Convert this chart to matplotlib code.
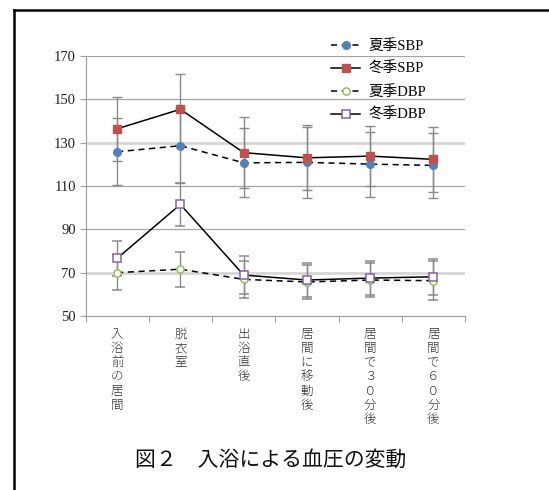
import numpy as np
import matplotlib
matplotlib.use('Agg')
from matplotlib import pyplot as plt
from matplotlib.lines import Line2D

# 測定タイミング
categories = ['入浴前の居間', '脱衣室', '出浴直後', '居間に移動後', '居間で３０分後', '居間で６０分後']

# 平均値と標準偏差 (mmHg)
sbp_summer = [125.8, 128.6, 120.7, 120.9, 120.1, 119.5]
sbp_summer_sd = [15.4, 17.4, 16.0, 16.3, 15.0, 15.0]
sbp_winter = [136.4, 145.4, 125.4, 123.0, 123.8, 122.3]
sbp_winter_sd = [14.8, 16.3, 16.3, 15.0, 14.0, 15.0]
dbp_summer = [70.0, 71.6, 66.9, 65.7, 66.6, 66.3]
dbp_summer_sd = [8.0, 8.0, 8.5, 8.0, 8.0, 9.0]
dbp_winter = [76.6, 101.5, 68.9, 66.6, 67.5, 68.1]
dbp_winter_sd = [8.1, 10.0, 8.7, 8.0, 8.0, 8.3]

series_labels = ['夏季SBP', '冬季SBP', '夏季DBP', '冬季DBP']
y_ticks = [50, 70, 90, 110, 130, 150, 170]

serif = ['Liberation Serif', 'Noto Sans CJK JP']
gothic = ['Noto Sans CJK JP', 'DejaVu Sans']

fig = plt.figure(figsize=(5.49, 4.9), dpi=100)
ax = fig.add_axes([85.5 / 549, 174 / 490, 379.5 / 549, 260 / 490])

x = np.arange(len(categories))

# grid
for v in y_ticks[1:]:
    if v in (70, 130):
        ax.axhline(v, color='#d6d6d6', lw=2.0, zorder=0)
    else:
        ax.axhline(v, color='#a6a6a6', lw=0.9, zorder=0)

styles = [
    (sbp_summer, sbp_summer_sd, dict(ls=(0, (4, 3)), marker='o', mfc='#4f81bd', mec='#4f81bd', ms=5.5)),
    (sbp_winter, sbp_winter_sd, dict(ls='-', marker='s', mfc='#c0504d', mec='#c0504d', ms=5.5)),
    (dbp_summer, dbp_summer_sd, dict(ls=(0, (4, 3)), marker='o', mfc='white', mec='#9bbb59', ms=5.2, mew=1.1)),
    (dbp_winter, dbp_winter_sd, dict(ls='-', marker='s', mfc='white', mec='#8064a2', ms=5.2, mew=1.1)),
]

handles = []
for (vals, sd, st), lab in zip(styles, series_labels):
    line, caps, bars = ax.errorbar(x, vals, yerr=sd, color='black', lw=1.1,
                                   ecolor='#8a8a8a', elinewidth=1.0, capsize=3.5,
                                   capthick=1.0, label=lab, **st)
    for c in caps:
        c.set_color('#3a3a3a')
    handles.append(Line2D([], [], color='black', lw=1.1, **st))

ax.set_xlim(-0.5, len(categories) - 0.5)
ax.set_ylim(50, 170)
ax.set_yticks(y_ticks)
ax.set_yticklabels([str(v) for v in y_ticks], family=serif, fontsize=10.5, color='#222222')
ax.set_xticks(np.arange(len(categories) + 1) - 0.5)
ax.set_xticklabels([])
ax.tick_params(axis='x', length=4, color='#a0a0a0', direction='out')
ax.tick_params(axis='y', length=4, color='#a0a0a0', direction='out', pad=3)
for s in ('top', 'right'):
    ax.spines[s].set_visible(False)
for s in ('left', 'bottom'):
    ax.spines[s].set_color('#a0a0a0')
    ax.spines[s].set_linewidth(0.9)

# 縦書きのカテゴリラベル
for i, cat in enumerate(categories):
    ax.text(i, -0.045, '\n'.join(cat), transform=ax.get_xaxis_transform(),
            ha='center', va='top', fontsize=9, family=gothic, color='#333333',
            linespacing=1.12, fontweight='light')

fig.legend(handles=handles, labels=series_labels, loc='upper left',
           bbox_to_anchor=(331 / 549, 1 - 39 / 490), frameon=False,
           prop={'family': serif, 'size': 10.5}, handlelength=2.0,
           handletextpad=0.6, labelspacing=0.62, borderpad=0, borderaxespad=0)

fig.text(271 / 549, 1 - 460 / 490, '図２　入浴による血圧の変動', ha='center', va='center',
         fontsize=15, family=gothic, color='#111111', fontweight='normal')

# 外枠
fig.add_artist(Line2D([14 / 549, 14 / 549], [0, 1 - 10.5 / 490], transform=fig.transFigure,
                      color='black', lw=1.8))
fig.add_artist(Line2D([14 / 549, 1], [1 - 10.5 / 490, 1 - 10.5 / 490], transform=fig.transFigure,
                      color='black', lw=1.8))

fig.savefig('out.png', dpi=100)
